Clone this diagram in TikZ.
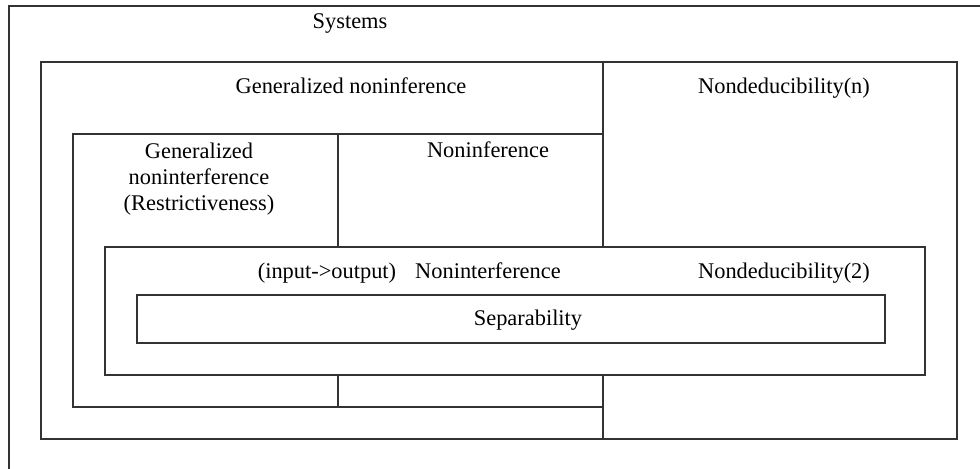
\documentclass[tikz,border=0pt]{standalone}
\usepackage{fontspec}
\setmainfont{Liberation Serif}
\definecolor{linegray}{HTML}{333333}
\begin{document}
\begin{tikzpicture}[x=0.5pt,y=-0.5pt,
  box/.style={draw=linegray, line width=0.65pt},
  lbl/.style={anchor=base, inner sep=0pt, align=center, font=\fontsize{11.2}{13}\selectfont}]
\useasboundingbox (0,0) rectangle (980,468);
\clip (0,0) rectangle (980,468);
% outer frame, cut off at the right and at the bottom
\draw [box] (9,6) rectangle (1000,490);
% generalized noninference and nondeducibility(n)
\draw [box] (41,62) rectangle (603,439);
\draw [box] (603,62) rectangle (957,439);
% restrictiveness and noninference
\draw [box] (73,134) rectangle (603,407);
\draw [box] (338,134) -- (338,407);
% noninterference and nondeducibility(2)
\draw [box, fill=white] (105,247) rectangle (925,375);
% separability
\draw [box] (137,295) rectangle (885,343);
\node [lbl] (systems) at (350,28) {Systems};
\node [lbl] (gnoninf) at (351,93) {Generalized noninference};
\node [lbl] (nondedn) at (784,93) {Nondeducibility(n)};
\node [lbl] (restrict) at (199,210) {Generalized\\noninterference\\(Restrictiveness)};
\node [lbl] (noninf) at (488,157) {Noninference};
\node [lbl] (inout) at (327,278) {(input->output)};
\node [lbl] (noninter) at (488,278) {Noninterference};
\node [lbl] (nonded2) at (784,278) {Nondeducibility(2)};
\node [lbl] (separ) at (528,325) {Separability};
\end{tikzpicture}
\end{document}
